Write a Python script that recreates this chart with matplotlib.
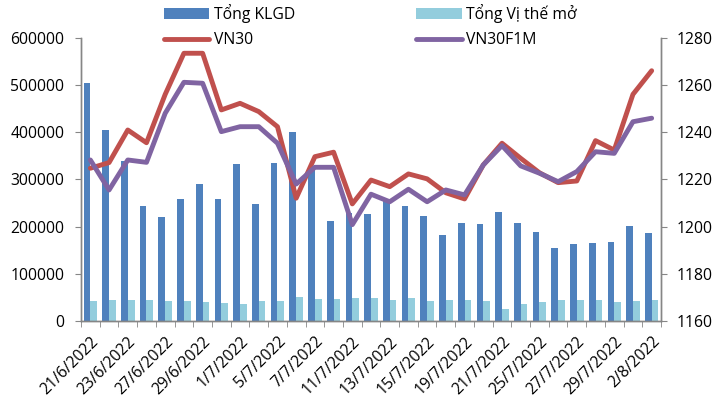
import matplotlib
matplotlib.use("Agg")
import matplotlib.pyplot as plt
import numpy as np

plt.rcParams["font.family"] = ["Open Sans", "DejaVu Sans"]

dates = ["21/6/2022", "22/6/2022", "23/6/2022", "24/6/2022", "27/6/2022", "28/6/2022",
         "29/6/2022", "30/6/2022", "1/7/2022", "4/7/2022", "5/7/2022", "6/7/2022",
         "7/7/2022", "8/7/2022", "11/7/2022", "12/7/2022", "13/7/2022", "14/7/2022",
         "15/7/2022", "18/7/2022", "19/7/2022", "20/7/2022", "21/7/2022", "22/7/2022",
         "25/7/2022", "26/7/2022", "27/7/2022", "28/7/2022", "29/7/2022", "1/8/2022",
         "2/8/2022"]

tong_klgd = [505000, 405000, 338000, 244000, 220000, 259000, 290000, 258000, 333000,
             247000, 334000, 400000, 320000, 212000, 228000, 226000, 254000, 244000,
             222000, 182000, 207000, 205000, 231000, 207000, 188000, 154000, 163000,
             165000, 167000, 202000, 186000]

tong_vtm = [41700, 43900, 45300, 43900, 41700, 41700, 39600, 38900, 35400, 41700, 41700,
            50200, 46000, 46000, 48100, 48100, 43900, 48100, 43300, 44600, 45300, 41700,
            26200, 36900, 41000, 43900, 45300, 43900, 40300, 43300, 43900]

vn30 = [1224.7, 1227.1, 1240.9, 1235.5, 1256.0, 1273.4, 1273.4, 1249.4, 1252.2, 1248.7,
        1242.3, 1212.0, 1229.6, 1231.5, 1209.6, 1219.7, 1216.9, 1222.3, 1220.2, 1214.3,
        1211.7, 1226.1, 1235.3, 1228.9, 1222.8, 1218.6, 1219.3, 1236.4, 1232.4, 1256.0,
        1266.0]

vn30f1m = [1228.2, 1215.5, 1228.2, 1227.2, 1248.0, 1261.1, 1260.7, 1240.2, 1242.3, 1242.3,
           1235.3, 1218.0, 1225.1, 1225.1, 1200.8, 1213.7, 1210.5, 1215.8, 1210.5, 1215.5,
           1213.4, 1226.1, 1234.3, 1225.7, 1222.6, 1219.0, 1223.3, 1231.7, 1231.0, 1244.4,
           1245.9]

left_ticks = [0, 100000, 200000, 300000, 400000, 500000, 600000]
right_ticks = [1160, 1180, 1200, 1220, 1240, 1260, 1280]

C_BLUE = "#4F81BD"
C_LIGHT = "#93CDDD"
C_RED = "#C0504D"
C_PURPLE = "#8064A2"
C_AXIS = "#868686"
FS = 11.3

fig = plt.figure(figsize=(7.15, 4.03), dpi=100)
ax = fig.add_axes([0.1133, 0.2035, 0.8112, 0.703])
x = np.arange(len(dates))
w = 0.36
b1 = ax.bar(x - w / 2, tong_klgd, width=w, color=C_BLUE, label="Tổng KLGD", zorder=2)
b2 = ax.bar(x + w / 2, tong_vtm, width=w, color=C_LIGHT, label="Tổng Vị thế mở", zorder=2)
ax.set_xlim(-0.5, len(dates) - 0.5)
ax.set_ylim(0, 600000)
ax.set_yticks(left_ticks)
ax.set_yticklabels([str(v) for v in left_ticks])

ax2 = ax.twinx()
l1, = ax2.plot(x, vn30, color=C_RED, lw=3.5, label="VN30", solid_joinstyle="round",
               solid_capstyle="round", zorder=3)
l2, = ax2.plot(x, vn30f1m, color=C_PURPLE, lw=3.5, label="VN30F1M", solid_joinstyle="round",
               solid_capstyle="round", zorder=4)
ax2.set_ylim(1160, 1280)
ax2.set_yticks(right_ticks)

for a in (ax, ax2):
    a.spines["top"].set_visible(False)
    for s in ("left", "right", "bottom"):
        a.spines[s].set_color(C_AXIS)
        a.spines[s].set_linewidth(1.0)

ax.set_xticks(x[::2])
ax.set_xticklabels(dates[::2], rotation=45, ha="right", rotation_mode="anchor", fontsize=FS)
ax.set_xticks(np.arange(-0.5, len(dates), 1.0), minor=True)
ax.tick_params(axis="x", which="major", length=0, pad=9)
ax.tick_params(axis="x", which="minor", length=4, color=C_AXIS, direction="out")
ax.tick_params(axis="y", length=4.5, color=C_AXIS, labelsize=FS, pad=7.5)
ax2.tick_params(axis="y", length=4.5, color=C_AXIS, labelsize=FS, pad=7)

fig.legend([b1, l1, b2, l2], ["Tổng KLGD", "VN30", "Tổng Vị thế mở", "VN30F1M"],
           ncol=2, loc="upper left", bbox_to_anchor=(0.229, 0.99), frameon=False,
           fontsize=FS, handlelength=2.9, handletextpad=0.3, columnspacing=7.7,
           labelspacing=0.6, borderpad=0, borderaxespad=0)

fig.savefig("out.png", dpi=100)
